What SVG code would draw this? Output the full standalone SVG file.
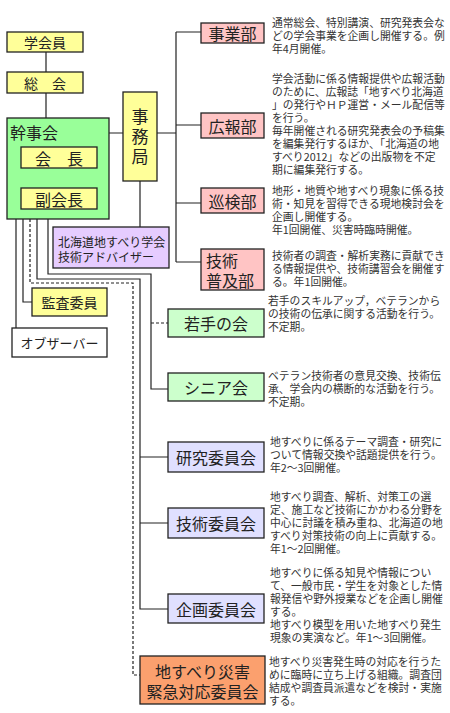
<svg xmlns="http://www.w3.org/2000/svg" width="450" height="713" viewBox="0 0 450 713">
<style>
.b{stroke:#222;stroke-width:1.3}
.y{fill:#ffff99}.g{fill:#99ff99}.lg{fill:#ccffcc}.p{fill:#ffc4c4}.v{fill:#e6ccff}.c{fill:#e0e0ff}.o{fill:#fba06e}.w{fill:#fff}
text{font-family:"Noto Sans CJK JP","Noto Sans",sans-serif;dominant-baseline:central;fill:#222}
.l{font-size:16px;text-anchor:middle}
.m{font-size:14px;text-anchor:middle}
.d{font-size:10.8px;fill:#333}
.ln{fill:none;stroke:#222;stroke-width:1.2}
.ds{fill:none;stroke:#222;stroke-width:1.2;stroke-dasharray:3 2}
</style>
<g id="connectors">
<path class="ln" d="M46 52V72M46 93V118M109 133H123M157 133H176M176 32V262M176 32H201M176 125H201M176 203H201M176 262H201M140 181V227"/>
<path class="ln" d="M16 219V328M23 219V302H32M37 219V279H140V609H168M140 457H168M140 523H168M48 219V274H151V389H168"/>
<path class="ds" d="M30 219V283H133V675H140M151 323H168"/>
</g>
<g id="gakkaiin"><rect class="b y" x="7" y="32" width="76" height="20"/><text class="m" x="45" y="42">学会員</text></g>
<g id="soukai"><rect class="b y" x="7" y="72" width="76" height="21"/><text class="m" x="45" y="83">総　会</text></g>
<g id="kanjikai"><rect class="b g" x="7" y="118" width="102" height="101"/><text x="10" y="132" style="font-size:16px">幹事会</text>
<rect class="b y" x="21" y="147" width="76" height="21"/><text class="l" x="59" y="157.5">会　長</text>
<rect class="b y" x="21" y="188" width="76" height="21"/><text class="l" x="59" y="198.5">副会長</text></g>
<g id="jimukyoku"><rect class="b y" x="123" y="92" width="34" height="89"/><text x="140" y="138" style="font-size:17px;writing-mode:vertical-rl;text-anchor:middle;letter-spacing:3px;dominant-baseline:auto">事務局</text></g>
<g id="advisor"><rect class="b v" x="53" y="227" width="116" height="41"/><text x="58" y="241" style="font-size:12px">北海道地すべり学会</text><text x="58" y="256" style="font-size:12px">技術アドバイザー</text></g>
<g id="kansa"><rect class="b y" x="32" y="288" width="75" height="28"/><text class="m" x="69.5" y="302">監査委員</text></g>
<g id="observer"><rect class="b w" x="12" y="328" width="95" height="29"/><text class="m" x="59.5" y="342.5" style="font-size:13px">オブザーバー</text></g>
<g id="jigyoubu"><rect class="b p" x="201" y="23" width="63" height="20"/><text class="l" x="232.5" y="33">事業部</text>
<text class="d" x="272" y="22"><tspan x="272">通常総会、特別講演、研究発表会な</tspan><tspan x="272" dy="13">どの学会事業を企画し開催する。例</tspan><tspan x="272" dy="13">年4月開催。</tspan></text></g>
<g id="kouhoubu"><rect class="b p" x="201" y="113" width="63" height="25"/><text class="l" x="232.5" y="125.5">広報部</text>
<text class="d" x="272" y="78"><tspan x="272">学会活動に係る情報提供や広報活動</tspan><tspan x="272" dy="13">のために、広報誌「地すべり北海道</tspan><tspan x="272" dy="13">」の発行やＨＰ運営・メール配信等</tspan><tspan x="272" dy="13">を行う。</tspan><tspan x="272" dy="13">毎年開催される研究発表会の予稿集</tspan><tspan x="272" dy="13">を編集発行するほか、「北海道の地</tspan><tspan x="272" dy="13">すべり2012」などの出版物を不定</tspan><tspan x="272" dy="13">期に編集発行する。</tspan></text></g>
<g id="junkenbu"><rect class="b p" x="201" y="188" width="63" height="25"/><text class="l" x="232.5" y="200.5">巡検部</text>
<text class="d" x="272" y="190"><tspan x="272">地形・地質や地すべり現象に係る技</tspan><tspan x="272" dy="13">術・知見を習得できる現地検討会を</tspan><tspan x="272" dy="13">企画し開催する。</tspan><tspan x="272" dy="13">年1回開催、災害時臨時開催。</tspan></text></g>
<g id="fukyuubu"><rect class="b p" x="201" y="249" width="63" height="41"/><text x="206" y="260" style="font-size:16px">技術</text><text x="206" y="280" style="font-size:16px">普及部</text>
<text class="d" x="272" y="255"><tspan x="272">技術者の調査・解析実務に貢献でき</tspan><tspan x="272" dy="13">る情報提供や、技術講習会を開催す</tspan><tspan x="272" dy="13">る。年1回開催。</tspan></text></g>
<g id="wakate"><rect class="b lg" x="168" y="309" width="96" height="28"/><text class="l" x="216" y="323">若手の会</text>
<text class="d" x="268" y="300"><tspan x="268">若手のスキルアップ，ベテランから</tspan><tspan x="268" dy="13">の技術の伝承に関する活動を行う。</tspan><tspan x="268" dy="13">不定期。</tspan></text></g>
<g id="senior"><rect class="b lg" x="168" y="373" width="96" height="28"/><text class="l" x="216" y="387">シニア会</text>
<text class="d" x="268" y="375"><tspan x="268">ベテラン技術者の意見交換、技術伝</tspan><tspan x="268" dy="13">承、学会内の横断的な活動を行う。</tspan><tspan x="268" dy="13">不定期。</tspan></text></g>
<g id="kenkyu"><rect class="b c" x="168" y="442" width="96" height="30"/><text class="l" x="216" y="457">研究委員会</text>
<text class="d" x="270" y="441"><tspan x="270">地すべりに係るテーマ調査・研究に</tspan><tspan x="270" dy="13">ついて情報交換や話題提供を行う。</tspan><tspan x="270" dy="13">年2～3回開催。</tspan></text></g>
<g id="gijutsu"><rect class="b c" x="168" y="508" width="96" height="30"/><text class="l" x="216" y="523">技術委員会</text>
<text class="d" x="270" y="496"><tspan x="270">地すべり調査、解析、対策工の選</tspan><tspan x="270" dy="13">定、施工など技術にかかわる分野を</tspan><tspan x="270" dy="13">中心に討議を積み重ね、北海道の地</tspan><tspan x="270" dy="13">すべり対策技術の向上に貢献する。</tspan><tspan x="270" dy="13">年1～2回開催。</tspan></text></g>
<g id="kikaku"><rect class="b c" x="168" y="594" width="96" height="29"/><text class="l" x="216" y="608.5">企画委員会</text>
<text class="d" x="270" y="572"><tspan x="270">地すべりに係る知見や情報につい</tspan><tspan x="270" dy="13">て、一般市民・学生を対象とした情</tspan><tspan x="270" dy="13">報発信や野外授業などを企画し開催</tspan><tspan x="270" dy="13">する。</tspan><tspan x="270" dy="13">地すべり模型を用いた地すべり発生</tspan><tspan x="270" dy="13">現象の実演など。年1～3回開催。</tspan></text></g>
<g id="kinkyu"><rect class="b o" x="140" y="656" width="125" height="48"/><text class="l" x="202.5" y="671">地すべり災害</text><text class="l" x="202.5" y="691">緊急対応委員会</text>
<text class="d" x="269" y="661"><tspan x="269">地すべり災害発生時の対応を行うた</tspan><tspan x="269" dy="13">めに臨時に立ち上げる組織。調査団</tspan><tspan x="269" dy="13">結成や調査員派遣などを検討・実施</tspan><tspan x="269" dy="13">する。</tspan></text></g>
</svg>
